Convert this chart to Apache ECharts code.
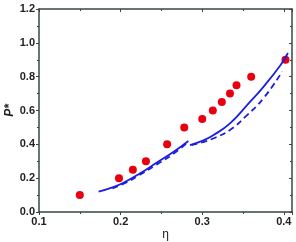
<!DOCTYPE html>
<html><head><meta charset="utf-8">
<script src="https://cdn.jsdelivr.net/npm/echarts@6/dist/echarts.min.js"></script>
<style>html,body{margin:0;padding:0;background:#fff}#c{width:296px;height:242px}</style>
</head><body><div id="c"></div>
<script>
// Experimental points (eta, P*)
const expEta = [0.15, 0.198, 0.215, 0.231, 0.257, 0.278, 0.300, 0.313, 0.324, 0.334, 0.342, 0.360, 0.402];
const expP   = [0.10, 0.20, 0.25, 0.30, 0.40, 0.50, 0.55, 0.60, 0.65, 0.70, 0.75, 0.80, 0.90];
// Solid curve, branch 1 and 2
const solid1Eta = [0.173, 0.190, 0.2035, 0.224, 0.244, 0.265, 0.283];
const solid1P   = [0.120, 0.145, 0.173, 0.229, 0.291, 0.356, 0.420];
const solid2Eta = [0.285, 0.300, 0.314, 0.334, 0.355, 0.375, 0.396, 0.405];
const solid2P   = [0.396, 0.420, 0.455, 0.524, 0.632, 0.740, 0.869, 0.940];
// Dashed curve, branch 1 and 2
const dash1Eta = [0.190, 0.205, 0.222, 0.244, 0.265, 0.283];
const dash1P   = [0.140, 0.170, 0.215, 0.280, 0.345, 0.415];
const dash2Eta = [0.287, 0.300, 0.314, 0.334, 0.355, 0.375, 0.398];
const dash2P   = [0.396, 0.412, 0.436, 0.485, 0.573, 0.672, 0.830];
// Ticks
const xTicks = {min: 0.1, max: 0.41, interval: 0.1};
const yTicks = {min: 0, max: 1.2, interval: 0.2};

const zip = (a, b) => a.map((v, i) => [v, b[i]]);
const blue = '#1a1ee0';
const axisCol = '#3a4444';
const lab = {fontSize: 11, fontWeight: 'bold', color: '#222', fontFamily: 'Liberation Sans, Arial, sans-serif'};

const chart = echarts.init(document.getElementById('c'), null, {renderer: 'canvas'});
chart.setOption({
  animation: false,
  grid: {left: 39, top: 9, right: 4, bottom: 30, containLabel: false, outerBoundsMode: 'none'},
  xAxis: [{
    type: 'value', min: xTicks.min, max: xTicks.max, interval: xTicks.interval,
    name: 'η', nameLocation: 'middle', nameGap: 17, nameMoveOverlap: false,
    nameTextStyle: {fontSize: 12, color: '#222', fontFamily: 'Liberation Sans, Arial, sans-serif'},
    axisLine: {show: true, lineStyle: {color: axisCol, width: 1.5}},
    axisTick: {show: true, inside: false, length: 3, lineStyle: {color: axisCol}},
    minorTick: {show: true, splitNumber: 2, length: 2, lineStyle: {color: axisCol}},
    axisLabel: Object.assign({margin: 4, showMaxLabel: false, formatter: v => (Math.abs(v*10 - Math.round(v*10)) < 1e-6 ? v.toFixed(1) : '')}, lab),
    splitLine: {show: false}
  }, {
    type: 'value', position: 'top', min: xTicks.min, max: xTicks.max, interval: xTicks.interval,
    axisLine: {show: true, onZero: false, lineStyle: {color: axisCol, width: 1.5}},
    axisTick: {show: true, inside: true, length: 3, lineStyle: {color: axisCol}},
    minorTick: {show: true, splitNumber: 2, length: 2, lineStyle: {color: axisCol}},
    axisLabel: {show: false}, splitLine: {show: false}
  }],
  yAxis: [{
    type: 'value', min: yTicks.min, max: yTicks.max, interval: yTicks.interval,
    name: 'P*', nameLocation: 'middle', nameGap: 23, nameMoveOverlap: false,
    nameTextStyle: {fontSize: 12, fontStyle: 'italic', fontWeight: 'bold', color: '#222', fontFamily: 'Liberation Sans, Arial, sans-serif'},
    axisLine: {show: true, lineStyle: {color: axisCol, width: 1.5}},
    axisTick: {show: true, inside: false, length: 3, lineStyle: {color: axisCol}},
    minorTick: {show: true, splitNumber: 2, length: 2, lineStyle: {color: axisCol}},
    axisLabel: Object.assign({margin: 4, formatter: v => v.toFixed(1)}, lab),
    splitLine: {show: false}
  }, {
    type: 'value', position: 'right', min: yTicks.min, max: yTicks.max, interval: yTicks.interval,
    axisLine: {show: true, onZero: false, lineStyle: {color: axisCol, width: 1.5}},
    axisTick: {show: true, inside: true, length: 3, lineStyle: {color: axisCol}},
    minorTick: {show: true, splitNumber: 2, length: 2, lineStyle: {color: axisCol}},
    axisLabel: {show: false}, splitLine: {show: false}
  }],
  series: [
    {type: 'line', data: zip(solid1Eta, solid1P), smooth: true, showSymbol: false, lineStyle: {color: blue, width: 1.8}},
    {type: 'line', data: zip(solid2Eta, solid2P), smooth: true, showSymbol: false, lineStyle: {color: blue, width: 1.8}},
    {type: 'line', data: zip(dash1Eta, dash1P), smooth: true, showSymbol: false, lineStyle: {color: blue, width: 1.8, type: [6, 4]}},
    {type: 'line', data: zip(dash2Eta, dash2P), smooth: true, showSymbol: false, lineStyle: {color: blue, width: 1.8, type: [6, 4]}},
    {type: 'scatter', data: zip(expEta, expP), symbol: 'circle', symbolSize: 8, itemStyle: {color: '#e8000f', opacity: 1}}
  ]
});
</script></body></html>
